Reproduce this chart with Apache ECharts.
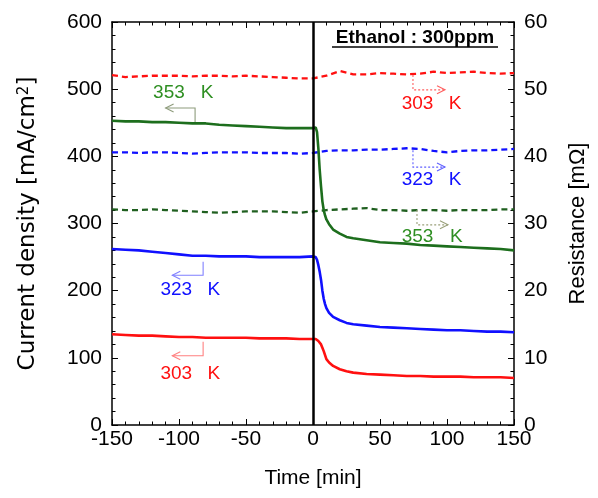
<!DOCTYPE html>
<html><head><meta charset="utf-8">
<script src="https://cdn.jsdelivr.net/npm/echarts@6/dist/echarts.min.js"></script>
<style>html,body{margin:0;padding:0;background:#fff}#c{width:598px;height:498px}</style>
</head><body><div id="c"></div>
<script>
// ---- data ----
const curTimes = [-150,-140,-130,-120,-110,-100,-90,-80,-70,-60,-50,-40,-30,-20,-10,0,2,3,4,5,6,7,8,9,10,12,15,20,25,30,40,50,60,70,80,90,100,110,120,130,140,150];
const current353 = [453,452,452,451,451,450,449,449,447,446,445,444,443,442,442,442,443,436,412,380,355,333,320,312,306,299,291,285,280,278,275,272,271,270,268,267,266,265,264,263,262,260];
const current323 = [262,261,260,258,256,254,252,252,251,251,251,250,250,250,250,251,250,246,238,228,216,200,188,180,174,167,161,156,152,150,148,146,145,144,143,142,141,141,140,139,139,138];
const current303 = [135,134,133,133,132,131,131,130,130,130,130,129,129,129,128,128,128,127,125,123,120,115,110,104,98,93,88,83,80,78,76,75,74,73,73,72,72,72,71,71,71,70];
const resTimes = [-150,-140,-130,-120,-110,-100,-90,-80,-70,-60,-50,-40,-30,-20,-10,0,10,20,30,40,50,60,70,80,90,100,110,120,130,140,150];
const res303 = [52.1,51.8,51.9,52.0,52.0,52.0,51.9,52.0,52.0,51.9,52.0,51.9,51.8,51.7,51.6,51.6,52.0,52.7,52.2,52.2,52.4,52.3,52.2,52.3,52.6,52.4,52.5,52.6,52.4,52.3,52.4];
const res323 = [40.6,40.6,40.5,40.6,40.6,40.5,40.4,40.5,40.6,40.6,40.6,40.5,40.5,40.5,40.4,40.5,40.8,40.9,40.9,41.0,41.0,41.1,41.2,41.1,40.8,40.6,40.8,40.9,40.9,41.0,41.1];
const res353 = [32.1,32.0,32.0,32.1,32.0,31.9,31.8,31.7,31.6,31.7,31.8,31.8,31.8,31.7,31.6,31.8,32.0,32.1,32.2,32.3,32.0,32.0,31.9,32.0,32.0,31.9,32.0,32.0,32.0,32.1,32.1];
const tempLabels = ['303','323','353'];
const unitLabel = 'K';
const titleText = 'Ethanol : 300ppm';

// ---- styles ----
const RED = '#ff1010', BLUE = '#1010ff', GREEN = '#1d6e1d';
const FONT = 'Liberation Sans';
const zip = (a, b) => a.map((v, i) => [v, b[i]]);

const chart = echarts.init(document.getElementById('c'), null, {renderer: 'canvas'});

const axisCommon = {
  axisLine: {show: true, onZero: false, lineStyle: {color: '#000', width: 1.5}},
  axisTick: {show: true, inside: true, length: 6, lineStyle: {color: '#000', width: 1}},
  minorTick: {show: true, splitNumber: 5, length: 3.5, lineStyle: {color: '#000', width: 1}},
  splitLine: {show: false},
  minorSplitLine: {show: false},
  axisLabel: {color: '#000', fontSize: 21, fontFamily: FONT}
};

const solid = (name, data, color) => ({
  name, type: 'line', xAxisIndex: 0, yAxisIndex: 0, data, showSymbol: false, symbol: 'none',
  lineStyle: {color, width: 2.6}, z: 3, animation: false
});
const dashed = (name, data, color) => ({
  name, type: 'line', xAxisIndex: 0, yAxisIndex: 1, data, showSymbol: false, symbol: 'none',
  lineStyle: {color, width: 2.3, type: [6, 4]}, z: 2, animation: false
});

chart.setOption({
  animation: false,
  textStyle: {fontFamily: FONT},
  grid: {left: 112, right: 84, top: 22, bottom: 73},
  xAxis: [
    Object.assign({}, axisCommon, {
      type: 'value', position: 'bottom', min: -150, max: 150, interval: 50,
      axisLabel: Object.assign({}, axisCommon.axisLabel, {margin: 4}),
      name: 'Time [min]', nameLocation: 'middle', nameGap: 43,
      nameTextStyle: {fontSize: 21, color: '#000', fontFamily: FONT}
    }),
    Object.assign({}, axisCommon, {
      type: 'value', position: 'top', min: -150, max: 150, interval: 50,
      axisLabel: {show: false}
    })
  ],
  yAxis: [
    Object.assign({}, axisCommon, {
      type: 'value', position: 'left', min: 0, max: 600, interval: 100,
      axisLabel: Object.assign({}, axisCommon.axisLabel, {margin: 10}),
      name: '{a|Current density [mA/cm}{s|2}{a|]}', nameLocation: 'middle', nameGap: 72,
      nameTextStyle: {
        rich: {
          a: {fontSize: 23, fontFamily: 'DejaVu Sans', color: '#000'},
          s: {fontSize: 15, fontFamily: 'DejaVu Sans', color: '#000', verticalAlign: 'top', padding: [0, 0, 8, 0]}
        }
      }
    }),
    Object.assign({}, axisCommon, {
      type: 'value', position: 'right', min: 0, max: 60, interval: 10,
      axisLabel: Object.assign({}, axisCommon.axisLabel, {margin: 10}),
      name: 'Resistance [mΩ]', nameLocation: 'middle', nameGap: 53,
      nameTextStyle: {fontSize: 22, color: '#000', fontFamily: FONT}
    })
  ],
  series: [
    dashed('R303', zip(resTimes, res303), RED),
    dashed('R323', zip(resTimes, res323), BLUE),
    dashed('R353', zip(resTimes, res353), '#1f5f1f'),
    solid('J303', zip(curTimes, current303), RED),
    solid('J323', zip(curTimes, current323), BLUE),
    Object.assign(solid('J353', zip(curTimes, current353), GREEN), {
      markLine: {
        silent: true, symbol: 'none', label: {show: false},
        lineStyle: {color: '#000', width: 2.5, type: 'solid'},
        data: [{xAxis: 0}], z: 10
      }
    })
  ]
});

// ---- annotations (data coordinates: [time, current density]) ----
const notes = [
  {t: tempLabels[2], color: '#2e8f22', line: '#8e9c7c', dir: -1, dotted: false, vx: -88, vy1: 451, vy2: 472, hx: -110, tx: -107.5, ty: 494, kx: -79},
  {t: tempLabels[1], color: BLUE, line: '#8080ff', dir: -1, dotted: false, vx: -82, vy1: 243, vy2: 223, hx: -105, tx: -102, ty: 201, kx: -74},
  {t: tempLabels[0], color: RED, line: '#ff8080', dir: -1, dotted: false, vx: -82, vy1: 124, vy2: 103, hx: -105, tx: -102, ty: 77, kx: -74},
  {t: tempLabels[0], color: RED, line: '#ff6060', dir: 1, dotted: true, vx: 74.6, vy1: 521, vy2: 499, hx: 98.5, tx: 78, ty: 479, kx: 106},
  {t: tempLabels[1], color: BLUE, line: '#6060ff', dir: 1, dotted: true, vx: 74.6, vy1: 409, vy2: 384, hx: 98.5, tx: 78, ty: 365, kx: 106},
  {t: tempLabels[2], color: '#2e8f22', line: '#9aa07a', dir: 1, dotted: true, vx: 77.6, vy1: 320, vy2: 298, hx: 100.7, tx: 78, ty: 280, kx: 107}
];
const P = (x, y) => chart.convertToPixel({xAxisIndex: 0, yAxisIndex: 0}, [x, y]);
const g = [];
notes.forEach(n => {
  const a = P(n.vx, n.vy1), b = P(n.vx, n.vy2), c = P(n.hx, n.vy2);
  const ls = {stroke: n.line, lineWidth: 1.1, fill: null, lineDash: n.dotted ? [2, 2] : null};
  g.push({type: 'polyline', shape: {points: [a, b, c]}, style: ls, silent: true, z: 20});
  const d = -n.dir;
  g.push({type: 'polyline', shape: {points: [[c[0] + d * 8, c[1] - 4], c, [c[0] + d * 8, c[1] + 4]]}, style: Object.assign({}, ls, {lineDash: null}), silent: true, z: 20});
  const tp = P(n.tx, n.ty), kp = P(n.kx, n.ty);
  g.push({type: 'text', x: tp[0], y: tp[1], style: {text: n.t, fill: n.color, font: '19px "Liberation Sans"', align: 'center', verticalAlign: 'middle'}, z: 21});
  g.push({type: 'text', x: kp[0], y: kp[1], style: {text: unitLabel, fill: n.color, font: '19px "Liberation Sans"', align: 'center', verticalAlign: 'middle'}, z: 21});
});
g.push({type: 'text', x: 415, y: 38, style: {text: titleText, fill: '#000', font: 'bold 19px "Liberation Sans"', align: 'center', verticalAlign: 'middle'}, z: 21});
g.push({type: 'line', shape: {x1: 332, y1: 47, x2: 498, y2: 47}, style: {stroke: '#000', lineWidth: 1.5}, z: 21});
chart.setOption({graphic: g});
</script>
</body></html>
